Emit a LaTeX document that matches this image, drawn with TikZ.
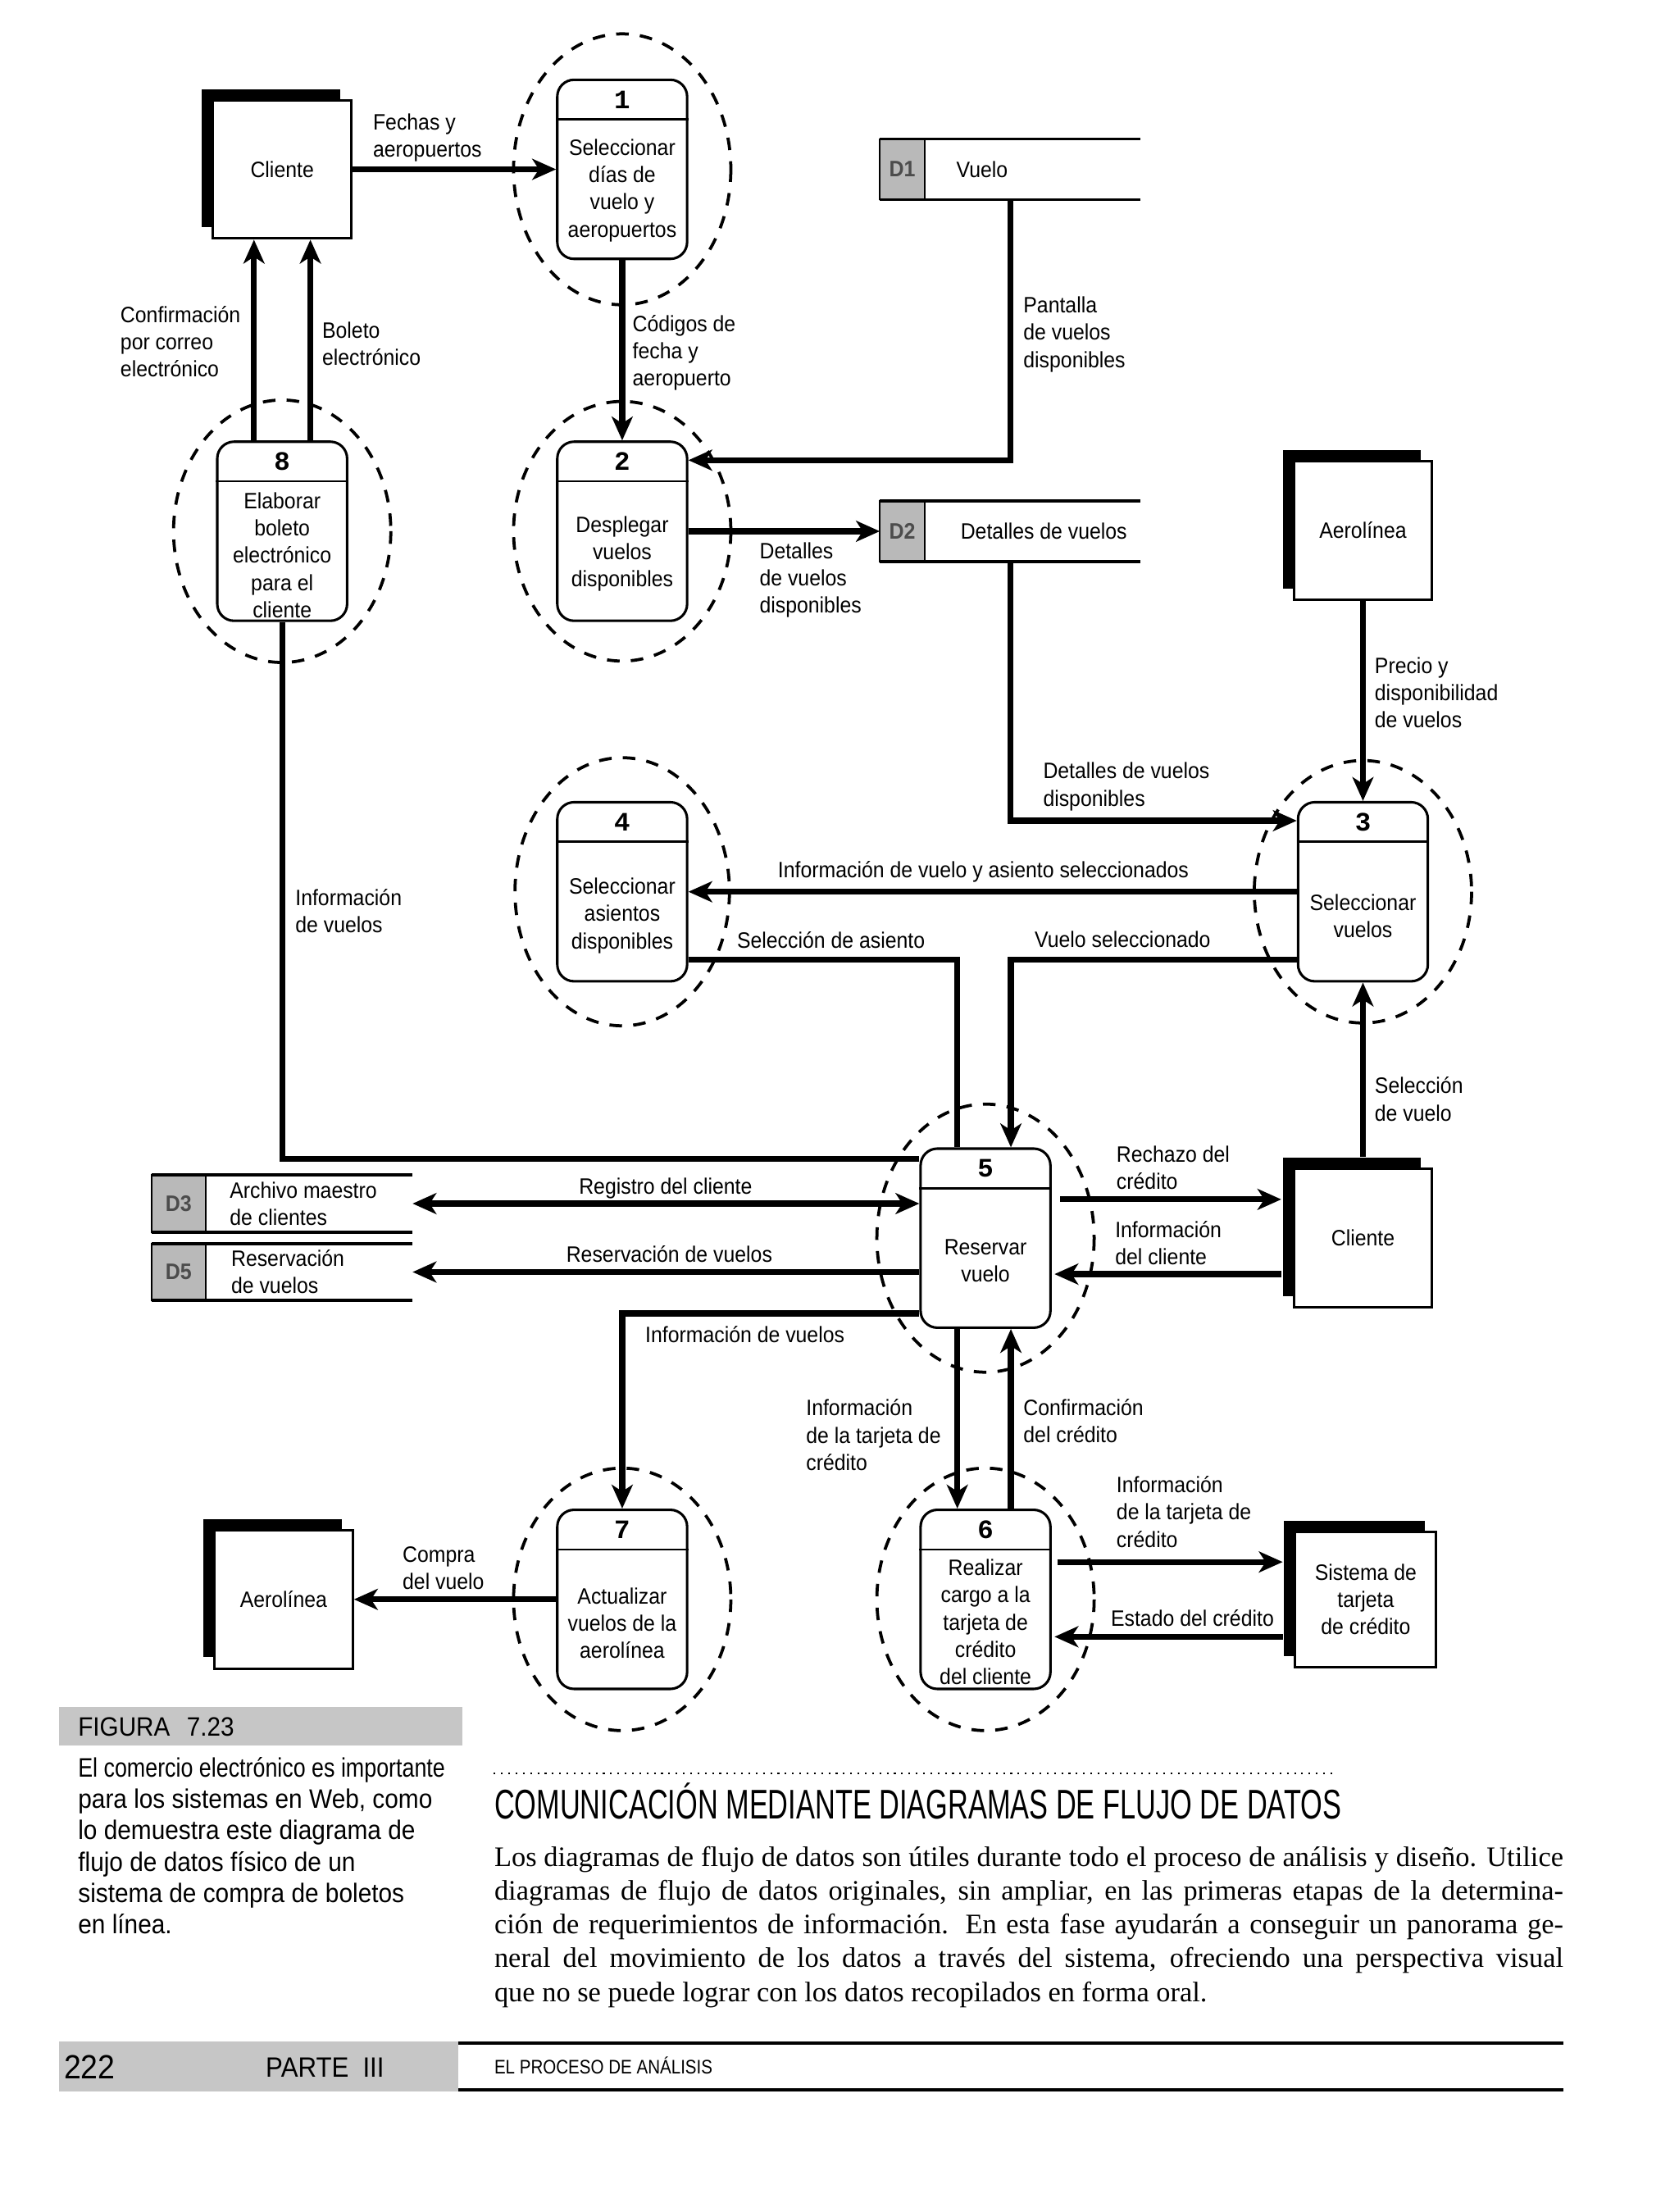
\documentclass[tikz,border=0pt]{standalone}
\usepackage{fontspec}
\setmainfont{Liberation Sans}
\newfontfamily\diagfont{Liberation Sans}[FakeStretch=0.915]
\newfontfamily\headfont{Liberation Sans}[FakeStretch=0.68]
\newfontfamily\footfont{Liberation Sans}[FakeStretch=0.86]
\newfontfamily\bodyfont{Liberation Serif}
\newfontfamily\numfont{Liberation Mono}
\usetikzlibrary{arrows.meta,calc,shadows}
\begin{document}
\begin{tikzpicture}[x=0.5042pt,y=-0.5042pt,
 lbl/.style={font=\diagfont\fontsize{7.95}{9.74}\selectfont,align=left,anchor=west,inner sep=0pt},
 ptxt/.style={font=\diagfont\fontsize{7.95}{9.74}\selectfont,align=center,inner sep=0pt},
 pnum/.style={font=\numfont\bfseries\fontsize{9.5}{10}\selectfont,inner sep=0pt},
 proc/.style={draw,line width=0.9pt,rounded corners=6pt,minimum width=46.4pt,minimum height=64pt,inner sep=0pt},
 ent/.style={draw,line width=0.9pt,fill=white,minimum width=49.4pt,minimum height=49.4pt,inner sep=0pt,
   font=\diagfont\fontsize{7.95}{9.74}\selectfont,align=center,
   general shadow={fill=black,shadow xshift=-4pt,shadow yshift=4pt}},
 store/.style={minimum width=92.8pt,minimum height=21.2pt,inner sep=0pt},
 sline/.style={line width=1pt},
 idbox/.style={draw,line width=0.6pt,fill=gray!55},
 idtxt/.style={font=\diagfont\bfseries\fontsize{8}{9}\selectfont,text=black!70,inner sep=0pt},
 flow/.style={line width=2.1pt,-{Stealth[length=8.5pt,width=7.5pt,inset=2.4pt]}},
 flowb/.style={line width=2.1pt,{Stealth[length=8.5pt,width=7.5pt,inset=2.4pt]}-{Stealth[length=8.5pt,width=7.5pt,inset=2.4pt]}},
 plain/.style={line width=2.1pt},
 dashel/.style={line width=1.1pt,dash pattern=on 4.5pt off 4pt}]
\fill[white] (0,0) rectangle (1190,1567.7);
\useasboundingbox (0,0) rectangle (1190,1567.7);

% processes
\node[proc] (p1) at (441,120) {};
\node[proc] (p2) at (441,376.5) {};
\node[proc] (p8) at (200,376.5) {};
\node[proc] (p4) at (441,632) {};
\node[proc] (p3) at (966,632) {};
\node[proc] (p5) at (698.5,877.5) {};
\node[proc] (p7) at (441,1133.5) {};
\node[proc] (p6) at (698.5,1133.5) {};
\foreach \p/\k in {p1/1,p2/2,p8/8,p4/4,p3/3,p5/5,p7/7,p6/6}{
  \draw[line width=0.8pt] ($(\p.north west)+(0,29)$) -- ($(\p.north east)+(0,29)$);
  \node[pnum] at ($(\p.north)+(0,15)$) {\k};
}
\node[ptxt] at ($(p1.center)+(0,15)$) {Seleccionar\\días de\\vuelo y\\aeropuertos};
\node[ptxt] at ($(p2.center)+(0,16)$) {Desplegar\\vuelos\\disponibles};
\node[ptxt] at ($(p8.center)+(0,17)$) {Elaborar\\boleto\\electrónico\\para el\\cliente};
\node[ptxt] at ($(p4.center)+(0,17)$) {Seleccionar\\asientos\\disponibles};
\node[ptxt] at ($(p3.center)+(0,17)$) {Seleccionar\\vuelos};
\node[ptxt] at ($(p5.center)+(0,16)$) {Reservar\\vuelo};
\node[ptxt] at ($(p7.center)+(0,17)$) {Actualizar\\vuelos de la\\aerolínea};
\node[ptxt] at ($(p6.center)+(0,16)$) {Realizar\\cargo a la\\tarjeta de\\crédito\\del cliente};

% dashed ellipses
\draw[dashel] (p1.center) ellipse [x radius=77, y radius=96];
\draw[dashel] (p2.center) ellipse [x radius=77, y radius=92];
\draw[dashel] (p8.center) ellipse [x radius=77, y radius=93];
\draw[dashel] (p4.center) ellipse [x radius=76, y radius=95];
\draw[dashel] (p3.center) ellipse [x radius=77, y radius=93];
\draw[dashel] (p5.center) ellipse [x radius=77, y radius=95];
\draw[dashel] (p7.center) ellipse [x radius=77, y radius=93];
\draw[dashel] (p6.center) ellipse [x radius=77, y radius=93];

% external entities
\node[ent] (cl1) at (200,120) {Cliente};
\node[ent] (aer1) at (966,376) {Aerolínea};
\node[ent] (cl2) at (966,877.5) {Cliente};
\node[ent,minimum width=50.4pt,minimum height=48.4pt] (sis) at (968,1133.5) {Sistema de\\tarjeta\\de crédito};
\node[ent] (aer2) at (201,1133.5) {Aerolínea};

% data stores
\node[store] (d1) at (716,120) {};
\node[store] (d2) at (716,376.5) {};
\node[store,minimum height=20.2pt] (d3) at (200,853) {};
\node[store,minimum height=19.7pt] (d5) at (200,901.5) {};
\foreach \d/\w/\id in {d1/16.1pt/D1,d2/16.1pt/D2,d3/19.2pt/D3,d5/19.2pt/D5}{
  \draw[idbox] (\d.north west) rectangle ([xshift=\w]\d.south west);
  \node[idtxt] at ([xshift=\w/2]\d.west) {\id};
  \draw[sline] (\d.north west) -- (\d.north east);
  \draw[sline] (\d.south west) -- (\d.south east);
}
\node[lbl] at ([xshift=27.2pt]d1.west) {Vuelo};
\node[lbl] at ([xshift=28.7pt]d2.west) {Detalles de vuelos};
\node[lbl] at ([xshift=27.7pt]d3.west) {Archivo maestro\\de clientes};
\node[lbl] at ([xshift=28.2pt]d5.west) {Reservación\\de vuelos};

% connectors
\draw[flow] (cl1.east) -- (p1.west);
\draw[flow] (p1.south) -- (p2.north);
\draw[flow] (d1.south) |- ([yshift=-7.06pt]p2.north east);
\draw[flow] (p2.east) -- (d2.west);
\draw[flow] ([xshift=-10.08pt]p8.north) -- ([xshift=-10.08pt]cl1.south);
\draw[flow] ([xshift=10.08pt]p8.north) -- ([xshift=10.08pt]cl1.south);
\draw[flow] (d2.south) |- ([yshift=-7.06pt]p3.north west);
\draw[flow] (aer1.south) -- (p3.north);
\draw[flow] (p3.west) -- (p4.east);
\draw[plain] ([yshift=-24.2pt]p4.east) -| ([xshift=-10.08pt]p5.north);
\draw[flow] ([yshift=-24.2pt]p3.west) -| ([xshift=9.07pt]p5.north);
\draw[plain] (p8.south) |- ([yshift=-4.03pt]p5.north west);
\draw[flowb] (d3.east) -- (p5.west |- d3.east);
\draw[flow] (p5.west |- d5.east) -- (d5.east);
\draw[flow] ([yshift=5.55pt]p5.south west) -| (p7.north);
\draw[flow] ([xshift=3pt,yshift=13.86pt]p5.east) -- ([xshift=-4.03pt,yshift=13.86pt]cl2.west);
\draw[flow] ([xshift=-4.03pt,yshift=-12.85pt]cl2.west) -- ([xshift=1pt,yshift=-12.85pt]p5.east);
\draw[flow] ([yshift=4.03pt]cl2.north) -- (p3.south);
\draw[flow] ([xshift=-10.08pt]p5.south) -- ([xshift=-10.08pt]p6.north);
\draw[flow] ([xshift=9.07pt]p6.north) -- ([xshift=9.07pt]p5.south);
\draw[flow] ([xshift=2pt,yshift=13.36pt]p6.east) -- ([xshift=-4.03pt,yshift=13.36pt]sis.west);
\draw[flow] ([xshift=-4.03pt,yshift=-13.36pt]sis.west) -- ([xshift=1pt,yshift=-13.36pt]p6.east);
\draw[flow] (p7.west) -- (aer2.east);

% connector labels
\node[lbl] (l1) at (264,97.5) {Fechas y\\aeropuertos};
\node[lbl] (l2) at (448,250) {Códigos de\\fecha y\\aeropuerto};
\node[lbl] (l3) at (725,237) {Pantalla\\de vuelos\\disponibles};
\node[lbl] (l4) at (85,242) {Confirmación\\por correo\\electrónico};
\node[lbl] (l5) at (228,243.5) {Boleto\\electrónico};
\node[lbl] (l6) at (538,411) {Detalles\\de vuelos\\disponibles};
\node[lbl] (l7) at (974,491) {Precio y\\disponibilidad\\de vuelos};
\node[lbl] (l8) at (739,557.5) {Detalles de vuelos\\disponibles};
\node[lbl] (l9) at (551,618) {Información de vuelo y asiento seleccionados};
\node[lbl] (l10) at (209,645.5) {Información\\de vuelos};
\node[lbl] (l11) at (522,666) {Selección de asiento};
\node[lbl] (l12) at (733,666) {Vuelo seleccionado};
\node[lbl] (l13) at (974,779) {Selección\\de vuelo};
\node[lbl] (l14) at (791,827.5) {Rechazo del\\crédito};
\node[lbl] (l15) at (790,881) {Información\\del cliente};
\node[lbl] (l16) at (410,842) {Registro del cliente};
\node[lbl] (l17) at (401,889) {Reservación de vuelos};
\node[lbl] (l18) at (457,946) {Información de vuelos};
\node[lbl] (l19) at (571,1017) {Información\\de la tarjeta de\\crédito};
\node[lbl] (l20) at (725,1007) {Confirmación\\del crédito};
\node[lbl] (l21) at (791,1071.5) {Información\\de la tarjeta de\\crédito};
\node[lbl] (l22) at (787,1147) {Estado del crédito};
\node[lbl] (l23) at (285,1111.5) {Compra\\del vuelo};

% caption
\fill[gray!45] (42,1210) rectangle (328,1237);
\node[anchor=west,inner sep=0pt,font=\diagfont\fontsize{9.5}{11}\selectfont] (figt) at (55,1224) {FIGURA\hspace{6pt}7.23};
\node[anchor=west,inner sep=0pt,align=left,font=\diagfont\fontsize{9.55}{11.2}\selectfont] (cap) at (55,1308)
 {\scalebox{0.9}[1]{El comercio electrónico es importante}\\para los sistemas en Web, como\\lo demuestra este diagrama de\\flujo de datos físico de un\\sistema de compra de boletos\\en línea.};

% section heading and body
\draw[dotted,line width=0.6pt] (350,1257) -- (948,1257);
\node[anchor=base west,inner sep=0pt,font=\headfont\fontsize{14.8}{16}\selectfont] (head) at (350,1289) {COMUNICACIÓN MEDIANTE DIAGRAMAS DE FLUJO DE DATOS};
\node[anchor=north west,inner sep=0pt,align=left,font=\bodyfont\fontsize{10.08}{12.1}\selectfont] (body) at (350,1308)
 {\makebox[382pt][s]{Los diagramas de flujo de datos son útiles durante todo el proceso de análisis y diseño. Utilice}\\
  \makebox[382pt][s]{diagramas de flujo de datos originales, sin ampliar, en las primeras etapas de la determina-}\\
  \makebox[382pt][s]{ción de requerimientos de información. En esta fase ayudarán a conseguir un panorama ge-}\\
  \makebox[382pt][s]{neral del movimiento de los datos a través del sistema, ofreciendo una perspectiva visual}\\
  que no se puede lograr con los datos recopilados en forma oral.};

% footer
\fill[gray!45] (42,1447) rectangle (325,1482);
\node[anchor=base west,inner sep=0pt,font=\diagfont\fontsize{12}{14}\selectfont] (pg) at (45,1473) {222};
\node[anchor=base west,inner sep=0pt,font=\diagfont\fontsize{10}{12}\selectfont] (pt) at (188,1472) {PARTE\hspace{5pt}III};
\draw[line width=1.4pt] (325,1448) -- (1108,1448);
\draw[line width=1.2pt] (325,1481) -- (1108,1481);
\node[anchor=base west,inner sep=0pt,font=\footfont\fontsize{7}{8}\selectfont] (ft) at (350,1470) {EL PROCESO DE ANÁLISIS};
\end{tikzpicture}
\end{document}
